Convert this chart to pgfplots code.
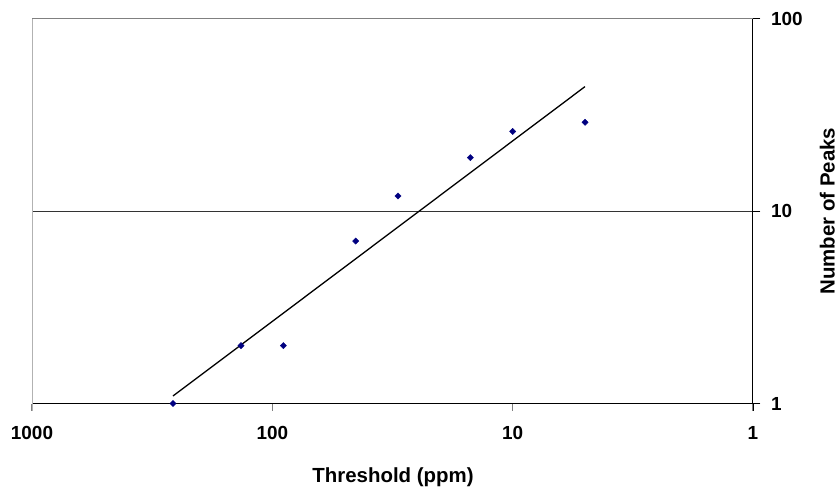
\documentclass[border=0pt]{standalone}
\usepackage{fontspec}
\setmainfont{Liberation Sans}
\usepackage{pgfplots}
\pgfplotsset{compat=1.18}
\definecolor{navy}{RGB}{0,0,128}
\begin{document}
\begin{tikzpicture}
\begin{axis}[
  at={(0,0)}, anchor=south west,
  scale only axis, width=721bp, height=384.5bp,
  xmode=log, ymode=log, x dir=reverse,
  xmin=1, xmax=1000, ymin=1, ymax=100,
  xminorticks=false, yminorticks=false,
  separate axis lines,
  axis x line*=bottom, axis y line*=right,
  x axis line style={black, line width=1bp, -},
  y axis line style={black, line width=1bp, -},
  xtick={1,10,100,1000}, xticklabels={1,10,100,1000},
  ytick={1,10,100}, yticklabels={1,10,100},
  tick align=outside, major tick length=7.5bp,
  x tick style={black!50, line width=1bp},
  y tick style={black, line width=1bp},
  tick label style={font=\fontsize{19}{22}\selectfont\bfseries},
  xticklabel style={yshift=-12bp},
  yticklabel style={anchor=west, xshift=7bp},
  ymajorgrids, grid style={black!80, line width=1bp},
  clip=false,
]
\addplot[only marks, mark=square*, mark size=2.2bp, mark options={navy, fill=navy, draw=navy, rotate=45}]
  coordinates {(259,1) (135,2) (90,2) (45,7) (30,12) (15,19) (10,26) (5,29)};
\addplot[black, line width=1.3bp] coordinates {(259,1.094) (5,44.5)};
\end{axis}
% plot-area borders (left light gray, top gray), extension tick at x=1
\draw[black!30, line width=1bp] (0,-7bp) -- (0,384.5bp);
\draw[black!50, line width=1bp] (0,384.5bp) -- (721bp,384.5bp);
\draw[black, line width=1bp] (721bp,-7bp) -- (721bp,0);
\node[font=\fontsize{20.5}{24}\selectfont\bfseries, anchor=base] at (361bp,-78.5bp) {Threshold (ppm)};
\node[font=\fontsize{20.5}{24}\selectfont\bfseries, anchor=base, rotate=90] at (802.5bp,192.25bp) {Number of Peaks};
\pgfresetboundingbox
\path[use as bounding box] (-32bp,-83.5bp) rectangle ++(839bp,487bp);
\end{tikzpicture}
\end{document}
